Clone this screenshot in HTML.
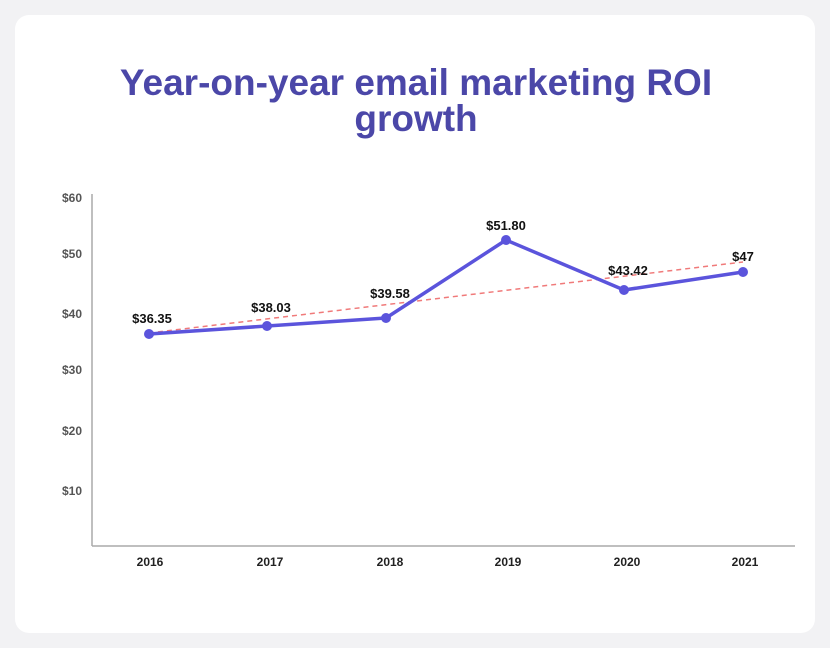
<!DOCTYPE html>
<html><head><style>
body{margin:0;width:830px;height:648px;background:#f2f2f4;font-family:"Liberation Sans",sans-serif;}
.card{position:absolute;left:15px;top:15px;width:800px;height:618px;background:#fff;border-radius:14px;}
</style></head><body>
<div class="card"></div>
<svg width="830" height="648" style="position:absolute;left:0;top:0">
<text x="416" y="95" text-anchor="middle" font-size="37" font-weight="bold" fill="#4b47a8" font-family="Liberation Sans">Year-on-year email marketing ROI</text>
<text x="416" y="131" text-anchor="middle" font-size="37" font-weight="bold" fill="#4b47a8" font-family="Liberation Sans">growth</text>
<line x1="92" y1="194" x2="92" y2="546" stroke="#aaa" stroke-width="1.5"/>
<line x1="92" y1="546" x2="795" y2="546" stroke="#aaa" stroke-width="1.5"/>
<g font-size="12" fill="#555" text-anchor="end" font-weight="bold">
<text x="82" y="202">$60</text><text x="82" y="258">$50</text><text x="82" y="318">$40</text>
<text x="82" y="374">$30</text><text x="82" y="435">$20</text><text x="82" y="495">$10</text>
</g>
<g font-size="12" fill="#222" text-anchor="middle" font-weight="bold">
<text x="150" y="566">2016</text><text x="270" y="566">2017</text><text x="390" y="566">2018</text>
<text x="508" y="566">2019</text><text x="627" y="566">2020</text><text x="745" y="566">2021</text>
</g>
<line x1="149" y1="333" x2="743" y2="262" stroke="#f07a7a" stroke-width="1.5" stroke-dasharray="5,4"/>
<polyline points="149,334 267,326 386,318 506,240 624,290 743,272" fill="none" stroke="#5b54dc" stroke-width="3.5" stroke-linejoin="round"/>
<g fill="#5b54dc">
<circle cx="149" cy="334" r="5"/><circle cx="267" cy="326" r="5"/><circle cx="386" cy="318" r="5"/>
<circle cx="506" cy="240" r="5"/><circle cx="624" cy="290" r="5"/><circle cx="743" cy="272" r="5"/>
</g>
<g font-size="13" fill="#111" text-anchor="middle" font-weight="bold">
<text x="152" y="323">$36.35</text><text x="271" y="312">$38.03</text><text x="390" y="298">$39.58</text>
<text x="506" y="230">$51.80</text><text x="628" y="275">$43.42</text><text x="743" y="261">$47</text>
</g>
</svg>
</body></html>
